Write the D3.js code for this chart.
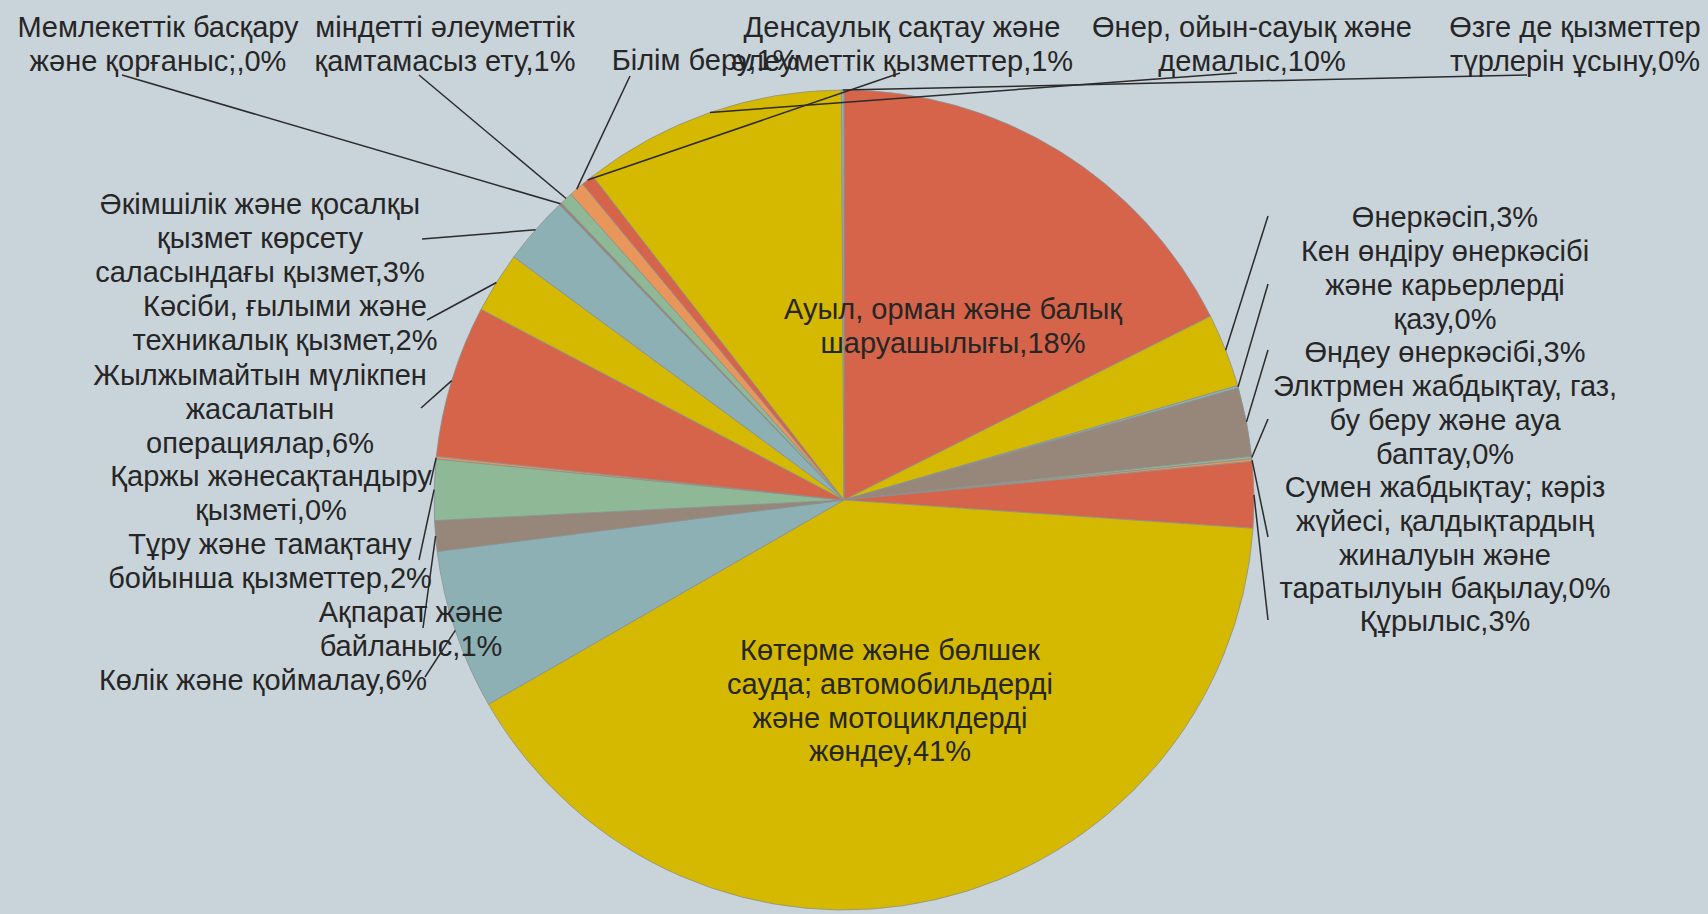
<!DOCTYPE html>
<html><head><meta charset="utf-8">
<script src="https://cdn.jsdelivr.net/npm/d3@7"></script>
<style>
html,body{margin:0;padding:0;background:#C9D3DA;}
svg{display:block;}
text{font-family:"Liberation Sans", Arial, sans-serif; font-size:29px; fill:#262626;}
</style></head><body>
<svg id="chart" width="1708" height="914"></svg>
<script>
// ---- data (clockwise from 12 o'clock) ----
const categories = [
  "Ауыл, орман және балық шаруашылығы",
  "Өнеркәсіп",
  "Кен өндіру өнеркәсібі және карьерлерді қазу",
  "Өндеу өнеркәсібі",
  "Элктрмен жабдықтау, газ, бу беру және ауа баптау",
  "Сумен жабдықтау; кәріз жүйесі, қалдықтардың жиналуын және таратылуын бақылау",
  "Құрылыс",
  "Көтерме және бөлшек сауда; автомобильдерді және мотоциклдерді жөндеу",
  "Көлік және қоймалау",
  "Ақпарат және байланыс",
  "Тұру және тамақтану бойынша қызметтер",
  "Қаржы жәнесақтандыру қызметі",
  "Жылжымайтын мүлікпен жасалатын операциялар",
  "Кәсіби, ғылыми және техникалық қызмет",
  "Әкімшілік және қосалқы қызмет көрсету саласындағы қызмет",
  "Мемлекеттік басқару және қорғаныс;",
  "міндетті әлеуметтік қамтамасыз ету",
  "Білім беру",
  "Денсаулық сақтау және әлеуметтік қызметтер",
  "Өнер, ойын-сауық және демалыс",
  "Өзге де қызметтер түрлерін ұсыну"
];
const values = [17.6, 2.9, 0.1, 2.7, 0.1, 0.1, 2.6, 40.6, 6.3, 1.2, 2.4, 0.1, 6.0, 2.4, 2.7, 0.1, 0.5, 0.6, 0.5, 10.4, 0.1];

// ---- styling / layout ----
const colorCycle = ["#D6644A", "#D5B800", "#8DB0B4", "#96877A", "#8FB996", "#E8965A"];
// words per wrapped line of each label
const lineWords = [[4,1],[1],[3,2,1],[2],[3,4,1],[3,2,2,2],[1],[3,2,2,1],[3],[2,1],[3,2],[2,1],[2,1,1],[3,2],[3,2,2],[2,2],[2,2],[2],[3,2],[3,1],[3,2]];
// label centre x, first baseline y, leader anchor (null = inside label)
const labelLayout = [
  {x: 953,  y: 319, a: null},
  {x: 1445, y: 227, a: [1268, 216]},
  {x: 1445, y: 261, a: [1268, 284]},
  {x: 1445, y: 362, a: [1268, 350]},
  {x: 1445, y: 396, a: [1268, 419]},
  {x: 1445, y: 497, a: [1268, 537]},
  {x: 1445, y: 631, a: [1268, 620]},
  {x: 890,  y: 660, a: null},
  {x: 263,  y: 690, a: [425, 677]},
  {x: 411,  y: 622, a: [423, 628]},
  {x: 270,  y: 554, a: [419, 560]},
  {x: 271,  y: 486, a: [430, 485]},
  {x: 260,  y: 385, a: [421, 408]},
  {x: 285,  y: 316, a: [427, 320]},
  {x: 260,  y: 214, a: [422, 239]},
  {x: 158,  y: 37,  a: [122, 75]},
  {x: 445,  y: 37,  a: [419, 75]},
  {x: 705,  y: 70,  a: [630, 76]},
  {x: 902,  y: 37,  a: [900, 73]},
  {x: 1252, y: 37,  a: [1237, 73]},
  {x: 1575, y: 37,  a: [1527, 75]}
];
const cx = 844, cy = 500, R = 410, lineH = 33.8;

const svg = d3.select("#chart");
const color = d3.scaleOrdinal().domain(categories).range(colorCycle);
const pie = d3.pie().sort(null).value(d => d.v).startAngle(0).endAngle(2 * Math.PI);
const arcs = pie(categories.map((c, i) => ({c, v: values[i], i})));
const arc = d3.arc().innerRadius(0).outerRadius(R);

const g = svg.append("g").attr("transform", `translate(${cx},${cy})`);
g.selectAll("path").data(arcs).join("path")
  .attr("d", arc)
  .attr("fill", d => color(d.data.c))
  .attr("stroke", "#8c8f8f")
  .attr("stroke-width", 0.8);

// leader lines
const lead = svg.append("g");
arcs.forEach(d => {
  const L = labelLayout[d.data.i];
  if (!L.a) return;
  const m = (d.startAngle + d.endAngle) / 2;
  const px = cx + R * Math.sin(m), py = cy - R * Math.cos(m);
  lead.append("line")
    .attr("x1", L.a[0]).attr("y1", L.a[1]).attr("x2", px).attr("y2", py)
    .attr("stroke", "#2b2b2b").attr("stroke-width", 1.5);
});

// labels
const lab = svg.append("g");
arcs.forEach(d => {
  const i = d.data.i, L = labelLayout[i];
  const words = (d.data.c + "," + Math.round(d.data.v) + "%").split(" ");
  const lines = [];
  let k = 0;
  lineWords[i].forEach(n => { lines.push(words.slice(k, k + n).join(" ")); k += n; });
  const t = lab.append("text").attr("text-anchor", "middle");
  lines.forEach((s, j) => {
    t.append("tspan").attr("x", L.x).attr("y", L.y + j * lineH).text(s);
  });
});
</script>
</body></html>
